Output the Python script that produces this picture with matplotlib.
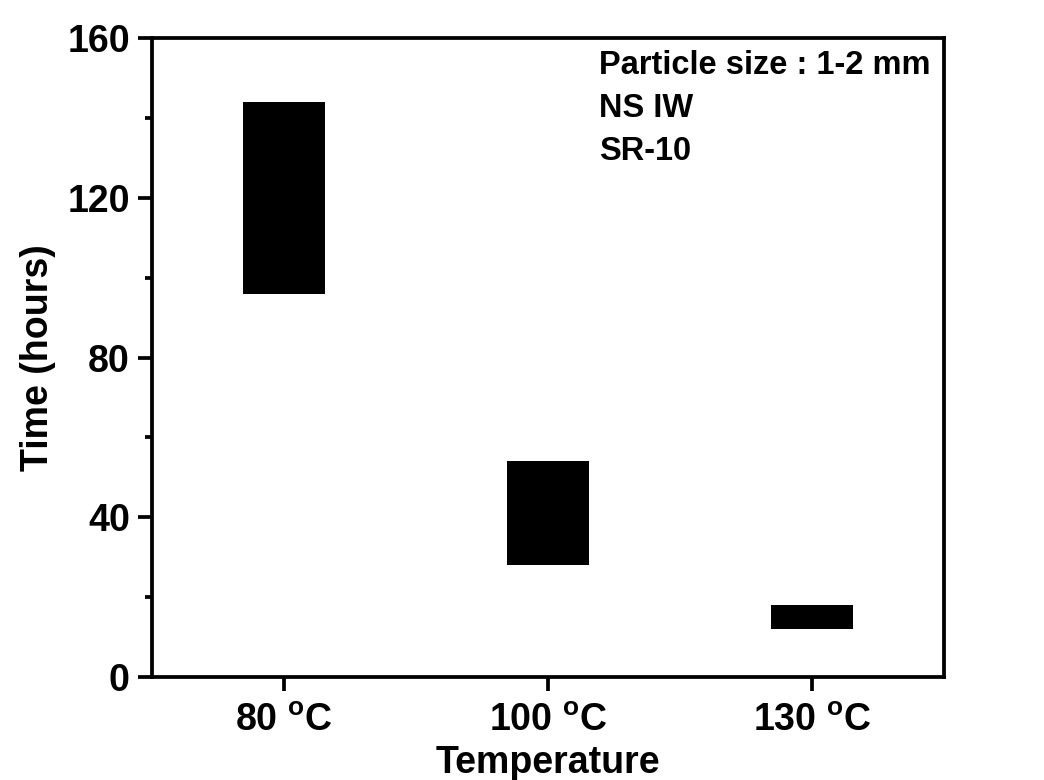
import matplotlib
matplotlib.use("Agg")
import matplotlib.pyplot as plt
from matplotlib.ticker import MultipleLocator

categories = ["80", "100", "130"]
time_low = [96, 28, 12]
time_high = [144, 54, 18]
annotation_lines = ["Particle size : 1-2 mm", "NS IW", "SR-10"]

plt.rcParams['font.family'] = ['Liberation Sans', 'DejaVu Sans']
plt.rcParams['font.weight'] = 'bold'
plt.rcParams['mathtext.fontset'] = 'custom'
plt.rcParams['mathtext.rm'] = 'Liberation Sans:bold'
plt.rcParams['mathtext.bf'] = 'Liberation Sans:bold'
plt.rcParams['mathtext.it'] = 'Liberation Sans:bold'

fig = plt.figure(figsize=(10.44, 7.8), dpi=100)
ax = fig.add_axes([0.1456, 0.132, 0.7586, 0.819])

x = list(range(1, len(categories) + 1))
heights = [h - l for h, l in zip(time_high, time_low)]
ax.bar(x, heights, bottom=time_low, width=0.31, color='black')

ax.set_xlim(0.5, 3.5)
ax.set_ylim(0, 160)
ax.set_xticks(x)
ax.set_xticklabels([c + r" $^{\mathrm{o}}$C" for c in categories])
ax.yaxis.set_major_locator(MultipleLocator(40))
ax.yaxis.set_minor_locator(MultipleLocator(20))

for s in ax.spines.values():
    s.set_linewidth(2.7)
ax.tick_params(axis='both', which='major', direction='out', length=10, width=2.7,
               labelsize=27, pad=6)
ax.tick_params(axis='x', which='major', pad=9)
ax.tick_params(axis='y', which='minor', direction='out', length=5, width=2.7)
ax.tick_params(axis='x', which='minor', bottom=False)

ax.set_xlabel("Temperature", fontsize=27, fontweight='bold', labelpad=4)
ax.set_ylabel("Time (hours)", fontsize=27, fontweight='bold', labelpad=8)

ax.text(0.564, 0.981, "\n".join(annotation_lines), transform=ax.transAxes,
        fontsize=23.5, fontweight='bold', va='top', ha='left', linespacing=1.5)

fig.savefig("out.png", dpi=100)
